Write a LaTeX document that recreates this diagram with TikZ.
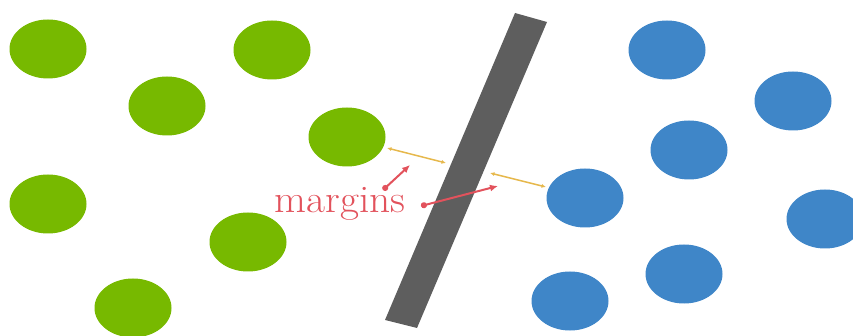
\documentclass[tikz,border=0pt]{standalone}
\usetikzlibrary{shapes.geometric,arrows.meta}
\definecolor{grn}{HTML}{77B900}
\definecolor{blu}{HTML}{3F86C8}
\definecolor{bar}{HTML}{5E5E5E}
\definecolor{gold}{HTML}{E6B84C}
\definecolor{redm}{HTML}{E2525C}
\tikzset{
  gdot/.style={ellipse, fill=grn, minimum width=77pt, minimum height=59pt, inner sep=0pt},
  bdot/.style={ellipse, fill=blu, minimum width=77pt, minimum height=59pt, inner sep=0pt},
  marg/.style={gold, line width=1.5pt, {Latex[length=4.5pt,width=4pt]}-{Latex[length=4.5pt,width=4pt]}},
  pointer/.style={redm, line width=2pt, {Circle[length=6pt]}-{Latex[length=8pt,width=7pt]}}
}
\begin{document}
\begin{tikzpicture}[x=1pt,y=-1pt]
\useasboundingbox (0,0) rectangle (853,336);
% green
\node[gdot] (g1) at (48,49) {};
\node[gdot] (g2) at (167,106) {};
\node[gdot] (g3) at (272,50) {};
\node[gdot] (g4) at (347,137) {};
\node[gdot] (g5) at (48,204) {};
\node[gdot] (g6) at (248,242) {};
\node[gdot] (g7) at (133,308) {};
% blue
\node[bdot] (b1) at (667,50) {};
\node[bdot] (b2) at (793,101) {};
\node[bdot] (b3) at (689,150) {};
\node[bdot] (b4) at (585,198) {};
\node[bdot] (b5) at (825,219) {};
\node[bdot] (b6) at (684,274) {};
\node[bdot] (b7) at (570,301) {};
% separator bar
\fill[bar] (515,13) -- (547,22) -- (417,328) -- (385,320) -- cycle;
% margin arrows
\coordinate (m1a) at (387,148);
\coordinate (m1b) at (446,163);
\coordinate (m2a) at (490,173);
\coordinate (m2b) at (546,187);
\draw[marg] (m1a) -- (m1b);
\draw[marg] (m2a) -- (m2b);
% label
\node[text=redm, font=\fontsize{39}{44}\selectfont, inner sep=0pt, xscale=1.06] (lbl) at (340,204) {margins};
\coordinate (p1a) at (383,190);
\coordinate (p1b) at (410,165);
\coordinate (p2a) at (421,206);
\coordinate (p2b) at (498,186);
\draw[pointer] (p1a) -- (p1b);
\draw[pointer] (p2a) -- (p2b);
\end{tikzpicture}
\end{document}
